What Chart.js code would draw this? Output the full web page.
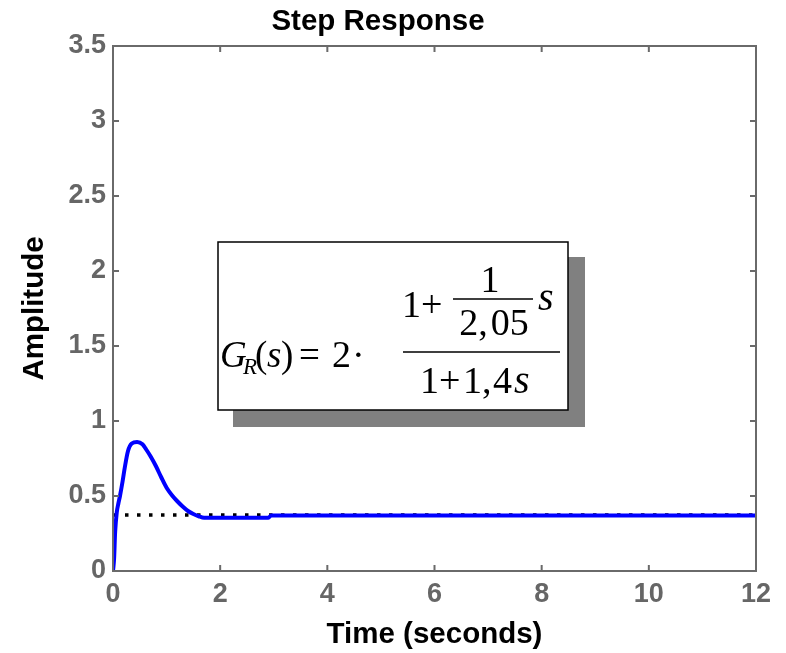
<!DOCTYPE html>
<html>
<head>
<meta charset="UTF-8">
<title>Step Response</title>
<script src="https://cdn.jsdelivr.net/npm/chart.js"></script>
<style>
    body { margin: 0; background: #fff; }
    #wrap { width: 786px; height: 653px; }
</style>
</head>
<body>
<div id="wrap"><canvas id="stepChart" width="786" height="653"></canvas></div>
<script>
// step response
const timeVals = [0, 0.02, 0.04, 0.07, 0.1, 0.13, 0.18, 0.22, 0.28, 0.35, 0.45, 0.55, 0.62, 0.7, 0.8, 0.9, 1.0, 1.1, 1.2, 1.3, 1.4, 1.5, 1.6, 1.7, 2.0, 2.5, 2.9, 2.95, 3.0, 12];
const ampVals  = [0, 0.08, 0.26, 0.39, 0.45, 0.5, 0.6, 0.69, 0.8, 0.85, 0.86, 0.845, 0.81, 0.765, 0.70, 0.625, 0.555, 0.505, 0.465, 0.43, 0.40, 0.38, 0.365, 0.355, 0.355, 0.355, 0.355, 0.37, 0.37, 0.37];
// steady state value (dotted)
const steadyTime = [0, 12];
const steadyAmp = [0.373, 0.373];

const xTicks = [0, 2, 4, 6, 8, 10, 12];
const yTicks = [0, 0.5, 1, 1.5, 2, 2.5, 3, 3.5];

const toPoints = (xs, ys) => xs.map((x, i) => ({ x: x, y: ys[i] }));

const axisGray = '#6a6a6a';
const sans = 'Arial, "Liberation Sans", sans-serif';
const serif = '"Liberation Serif", "Times New Roman", serif';

// frame, inward tick marks and the formula box
const framePlugin = {
    id: 'frame',
    afterDraw(chart) {
        const { ctx, chartArea: a, scales } = chart;
        ctx.save();
        ctx.strokeStyle = axisGray;
        ctx.lineWidth = 2;
        ctx.strokeRect(a.left, a.top, a.right - a.left, a.bottom - a.top);
        ctx.beginPath();
        const len = 6;
        xTicks.forEach(v => {
            const px = scales.x.getPixelForValue(v);
            ctx.moveTo(px, a.bottom); ctx.lineTo(px, a.bottom - len);
            ctx.moveTo(px, a.top); ctx.lineTo(px, a.top + len);
        });
        yTicks.forEach(v => {
            const py = scales.y.getPixelForValue(v);
            ctx.moveTo(a.left, py); ctx.lineTo(a.left + len, py);
            ctx.moveTo(a.right, py); ctx.lineTo(a.right - len, py);
        });
        ctx.stroke();

        // formula box with shadow
        ctx.fillStyle = '#808080';
        ctx.fillRect(233, 257, 352, 170);
        ctx.fillStyle = '#fff';
        ctx.fillRect(218, 242, 350, 168);
        ctx.strokeStyle = '#000';
        ctx.lineWidth = 1.5;
        ctx.strokeRect(218, 242, 350, 168);

        ctx.fillStyle = '#000';
        ctx.textBaseline = 'alphabetic';
        ctx.textAlign = 'left';
        const put = (t, x, y, size, italic) => {
            ctx.font = (italic ? 'italic ' : '') + size + 'px ' + serif;
            ctx.fillText(t, x, y);
        };

        // left part
        put('G', 220, 367, 37, true);
        put('R', 243, 374, 23, true);
        put('(', 255, 367, 37, false);
        put('s', 267, 367, 37, true);
        put(')', 281, 367, 37, false);
        put('=', 299, 367, 37, false);
        put('2', 332, 367, 38, false);
        put('\u00B7', 352, 367, 38, false);

        // fraction bars
        ctx.lineWidth = 1.6;
        ctx.beginPath();
        ctx.moveTo(403, 352); ctx.lineTo(560, 352);
        ctx.moveTo(453, 299); ctx.lineTo(533, 299);
        ctx.stroke();

        // numerator
        put('1', 402, 317, 38, false);
        put('+', 421, 317, 38, false);
        ctx.textAlign = 'center';
        ctx.font = '38px ' + serif;
        ctx.fillText('1', 490, 292);
        ctx.fillText('2,\u200A05', 494, 335);
        ctx.textAlign = 'left';
        put('s', 538, 310, 40, true);

        // denominator
        put('1', 420, 393, 38, false);
        put('+', 439, 393, 38, false);
        put('1', 463, 393, 38, false);
        put(',', 482, 393, 38, false);
        put('4', 493, 393, 38, false);
        put('s', 514, 393, 40, true);
        ctx.restore();
    }
};

new Chart(document.getElementById('stepChart'), {
    type: 'line',
    data: {
        datasets: [{
            data: toPoints(timeVals, ampVals),
            borderColor: '#0000ff',
            borderWidth: 4,
            pointRadius: 0,
            cubicInterpolationMode: 'monotone',
            fill: false
        }, {
            data: toPoints(steadyTime, steadyAmp),
            borderColor: '#000',
            borderWidth: 3.5,
            borderDash: [3.5, 8.5],
            pointRadius: 0,
            fill: false
        }]
    },
    options: {
        responsive: false,
        animation: false,
        devicePixelRatio: 1,
        layout: { padding: { left: 0, right: 30, top: 0, bottom: 0 } },
        plugins: {
            legend: { display: false },
            tooltip: { enabled: false },
            title: {
                display: true,
                text: 'Step Response',
                color: '#000',
                font: { family: sans, size: 29.5, weight: 'bold' },
                padding: { top: 4, bottom: 6.6 }
            }
        },
        scales: {
            x: {
                type: 'linear',
                min: 0,
                max: 12,
                afterBuildTicks: s => { s.ticks = xTicks.map(v => ({ value: v })); },
                afterFit: s => { s.height = 82; },
                grid: { display: false, drawTicks: false },
                border: { display: false },
                ticks: {
                    color: '#666',
                    padding: 7,
                    maxRotation: 0,
                    callback: v => String(v),
                    font: { family: sans, size: 27, weight: 'bold' }
                },
                title: {
                    display: true,
                    text: 'Time (seconds)',
                    color: '#000',
                    font: { family: sans, size: 29.5, weight: 'bold' },
                    padding: { top: 0, bottom: 0 }
                }
            },
            y: {
                min: 0,
                max: 3.5,
                afterBuildTicks: s => { s.ticks = yTicks.map(v => ({ value: v })); },
                afterFit: s => { s.width = 113; },
                grid: { display: false, drawTicks: false },
                border: { display: false },
                ticks: {
                    color: '#666',
                    padding: 7,
                    callback: v => String(v),
                    font: { family: sans, size: 27, weight: 'bold' }
                },
                title: {
                    display: true,
                    text: 'Amplitude',
                    color: '#000',
                    font: { family: sans, size: 29.5, weight: 'bold' },
                    padding: { top: 17, bottom: 0 }
                }
            }
        }
    },
    plugins: [framePlugin]
});
</script>
</body>
</html>
